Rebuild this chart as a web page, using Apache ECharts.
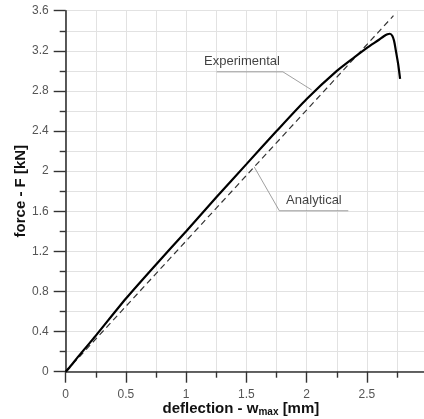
<!DOCTYPE html>
<html><head><meta charset="utf-8">
<script src="https://cdn.jsdelivr.net/npm/echarts@6/dist/echarts.min.js"></script>
<style>html,body{margin:0;padding:0;background:#fff}#c{width:424px;height:419px}</style>
</head><body><div id="c"></div>
<script>
// Experimental curve (deflection [mm], force [kN])
var expX = [0, 0.05, 0.1, 0.25, 0.5, 0.75, 1.0, 1.25, 1.5, 1.75, 2.0, 2.25, 2.4, 2.5, 2.6, 2.64, 2.67, 2.69, 2.71, 2.725, 2.74, 2.76, 2.775];
var expY = [0, 0.07, 0.145, 0.36, 0.73, 1.07, 1.40, 1.74, 2.07, 2.40, 2.72, 3.00, 3.14, 3.23, 3.31, 3.345, 3.365, 3.37, 3.35, 3.30, 3.20, 3.06, 2.92];
// Analytical line
var anaX = [0, 2.72];
var anaY = [0, 3.55];
// Axis ticks
var xTicks = [0, 0.5, 1, 1.5, 2, 2.5, 3];
var yTicks = [0, 0.4, 0.8, 1.2, 1.6, 2, 2.4, 2.8, 3.2, 3.6];
// Annotations (data coords): leader polylines and label anchors
var expLeader = [[1.253, 2.99], [1.803, 2.99], [2.041, 2.81]];
var expLabel = [1.463, 3.09, 'Experimental'];
var anaLeader = [[2.345, 1.605], [1.773, 1.605], [1.564, 2.043]];
var anaLabel = [2.06, 1.705, 'Analytical'];

function zip(a, b) { return a.map(function (v, i) { return [v, b[i]]; }); }

var chart = echarts.init(document.getElementById('c'), null, {renderer: 'canvas'});
var font = 'Liberation Sans, Arial, sans-serif';
var gridColor = '#e2e2e2';
var axisColor = '#333';

chart.setOption({
  animation: false,
  backgroundColor: '#fff',
  grid: {left: 65.7, width: 361.5, top: 10.7, height: 361, containLabel: false, outerBoundsMode: 'none'},
  xAxis: {
    type: 'value', min: xTicks[0], max: xTicks[xTicks.length - 1], interval: 0.5,
    name: '{b|deflection - w}{s|max}{b| [mm]}',
    nameLocation: 'middle', nameGap: 28, nameMoveOverlap: false,
    nameTextStyle: {padding: [0, 11, 0, 0], rich: {
      b: {fontFamily: font, fontSize: 15, fontWeight: 'bold', color: '#111', lineHeight: 18},
      s: {fontFamily: font, fontSize: 10, fontWeight: 'bold', color: '#111', padding: [7, 0, 0, 0]}
    }},
    axisLine: {show: true, onZero: false, lineStyle: {color: axisColor, width: 1.6}},
    axisTick: {show: true, inside: false, length: 11, lineStyle: {color: axisColor, width: 1.4}},
    minorTick: {show: true, splitNumber: 2, length: 6, lineStyle: {color: axisColor, width: 1.4}},
    splitLine: {show: true, lineStyle: {color: gridColor, width: 1}},
    minorSplitLine: {show: true, lineStyle: {color: gridColor, width: 1}},
    axisLabel: {fontFamily: font, fontSize: 12, color: '#555', margin: 17, showMaxLabel: true,
      hideOverlap: false,
      formatter: function (v) { return String(v); }}
  },
  yAxis: {
    type: 'value', min: yTicks[0], max: yTicks[yTicks.length - 1], interval: 0.4,
    name: 'force - F [kN]', nameLocation: 'middle', nameGap: 37, nameRotate: 90, nameMoveOverlap: false,
    nameTextStyle: {fontFamily: font, fontSize: 15, fontWeight: 'bold', color: '#111'},
    axisLine: {show: true, onZero: false, lineStyle: {color: axisColor, width: 1.6}},
    axisTick: {show: true, inside: false, length: 12, lineStyle: {color: axisColor, width: 1.4}},
    minorTick: {show: true, splitNumber: 2, length: 6, lineStyle: {color: axisColor, width: 1.4}},
    splitLine: {show: true, lineStyle: {color: gridColor, width: 1}},
    minorSplitLine: {show: true, lineStyle: {color: gridColor, width: 1}},
    axisLabel: {fontFamily: font, fontSize: 12, color: '#555', margin: 17,
      formatter: function (v) { return String(Math.round(v * 10) / 10); }}
  },
  series: [
    {type: 'line', data: zip(anaX, anaY), showSymbol: false, symbol: 'none', z: 3,
      lineStyle: {color: '#333', width: 1.2, type: [6, 4]}},
    {type: 'line', data: zip(expX, expY), showSymbol: false, symbol: 'none', z: 4, smooth: 0.25,
      lineStyle: {color: '#000', width: 2.2}},
    {type: 'lines', coordinateSystem: 'cartesian2d', polyline: true, z: 2,
      data: [{coords: expLeader}, {coords: anaLeader}],
      lineStyle: {color: '#888', width: 0.8, opacity: 1}},
    {type: 'scatter', symbolSize: 0, z: 5,
      data: [expLabel, anaLabel],
      label: {show: true, position: 'inside', fontFamily: font, fontSize: 13, color: '#111',
        formatter: function (p) { return p.value[2]; }}}
  ]
});
</script></body></html>
